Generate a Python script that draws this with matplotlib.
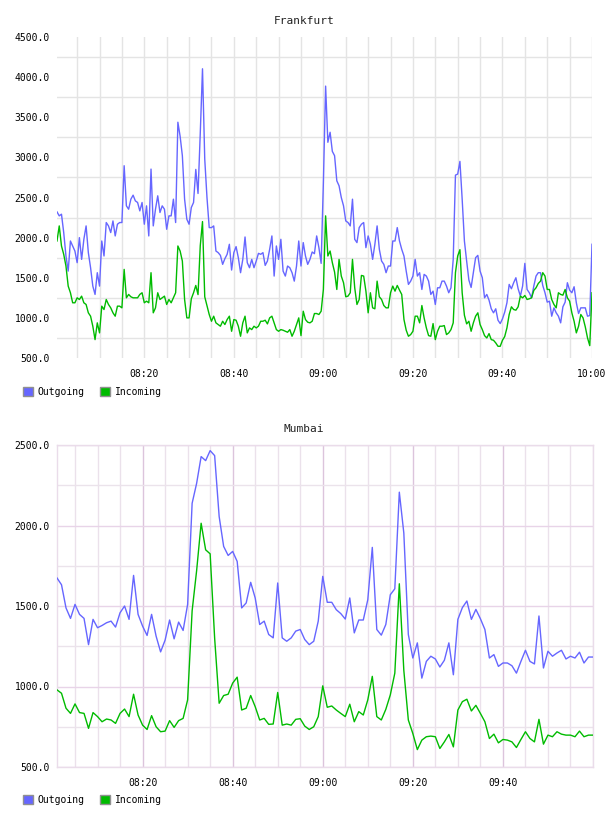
import matplotlib

matplotlib.use("Agg")

import matplotlib.pyplot as plt
import numpy as np
from matplotlib.patches import Patch
from matplotlib.ticker import FixedLocator, FuncFormatter


OUTPUT_PATH = "out.png"

OUTGOING_COLOR = "#6666ff"
INCOMING_COLOR = "#00bb00"
SERIES_LABELS = ["Outgoing", "Incoming"]

# Frankfurt: one sample every 30 s starting 08:00:30 (minutes after 08:00)
FRANKFURT_START_MIN = 0.5
FRANKFURT_STEP_MIN = 0.5

frankfurt_outgoing = [
    2321, 2271, 2292, 2063, 1771, 1583, 1958, 1896, 1833, 1688,
    2000, 1729, 1979, 2146, 1813, 1625, 1396, 1292, 1563, 1396,
    1958, 1771, 2188, 2146, 2063, 2208, 2021, 2167, 2188, 2188,
    2896, 2396, 2354, 2479, 2529, 2458, 2438, 2333, 2438, 2167,
    2396, 2021, 2854, 2146, 2354, 2521, 2313, 2396, 2354, 2104,
    2271, 2271, 2479, 2188, 3438, 3263, 3021, 2479, 2229, 2167,
    2375,
    2438, 2850, 2550, 3300, 4104, 2979, 2500, 2125, 2125, 2146,
    1833, 1813, 1779, 1667, 1738, 1792, 1917, 1596, 1813, 1888,
    1750, 1563, 1729, 2008, 1688, 1625, 1729, 1625, 1708, 1804,
    1792, 1813, 1654, 1708, 1854, 2021, 1521, 1896, 1729, 1979,
    1583, 1521, 1646, 1625, 1563, 1458, 1646, 1958, 1646, 1938,
    1771, 1667, 1729, 1821, 1800, 2021, 1875, 1679, 2688, 3888,
    3188, 3313, 3075, 3021, 2708, 2646, 2500, 2396, 2208, 2188,
    2146, 2479, 1979, 1938, 2125, 2167, 2188, 1875, 2021, 1917,
    1729, 1917, 2146, 1854, 1708, 1667, 1563, 1646, 1646, 1958,
    1958, 2125, 1958, 1854, 1771, 1583, 1417, 1458, 1521, 1729,
    1521, 1563, 1354, 1542, 1521, 1458, 1292, 1333, 1167, 1375,
    1375, 1458, 1458, 1396, 1313, 1375, 1729, 2779, 2792, 2950,
    2479, 1958, 1708, 1471, 1379, 1563, 1750, 1779, 1583, 1500,
    1250, 1292, 1221, 1113, 1063, 1113, 971, 929, 988, 1071,
    1188, 1417, 1363, 1438, 1500, 1363, 1271, 1396, 1679, 1354,
    1313, 1250, 1396, 1521, 1563, 1563, 1404, 1313, 1196, 1208,
    1021, 1125, 1063, 1021, 938, 1138, 1196, 1438, 1346, 1313,
    1388, 1188, 1054, 1125, 1125, 1125, 1021, 1029, 1917,
]

frankfurt_incoming = [
    1958, 2146, 1896, 1792, 1646, 1396, 1313, 1188, 1188, 1250,
    1229, 1271, 1188, 1167, 1063, 1021, 896, 729, 938, 813,
    1146, 1104, 1229, 1167, 1125, 1063, 1021, 1146, 1146, 1125,
    1604, 1250, 1292, 1263, 1250, 1250, 1250, 1292, 1313, 1188,
    1208, 1188, 1563, 1063, 1125, 1313, 1229, 1250, 1271, 1167,
    1229, 1188, 1250, 1313, 1896, 1833, 1708, 1229, 1000, 1000,
    1238,
    1313, 1404, 1290, 1900, 2200, 1263, 1154, 1042, 958, 1021,
    938, 917, 896, 958, 917, 979, 1021, 833, 979, 971,
    896, 771, 938, 1021, 813, 875, 854, 896, 875, 896,
    958, 958, 971, 925, 1000, 1021, 938, 854, 833, 854,
    846, 833, 821, 854, 771, 833, 917, 1000, 779, 1083,
    979, 946, 938, 958, 1054, 1054, 1042, 1083, 1354, 2271,
    1771, 1833, 1688, 1571, 1354, 1729, 1521, 1438, 1263, 1271,
    1313, 1729, 1375, 1167, 1229, 1529, 1521, 1333, 1063, 1313,
    1125, 1113, 1458, 1263, 1229, 1154, 1125, 1125, 1313, 1396,
    1333, 1404, 1346, 1292, 979, 846, 771, 792, 833, 1021,
    1021, 938, 1154, 1000, 875, 779, 771, 929, 729, 833,
    896, 896, 904, 792, 813, 854, 938, 1563, 1771, 1850,
    1313, 1033, 925, 958, 833, 938, 1021, 1063, 917, 854,
    779, 750, 804, 729, 721, 688, 646, 646, 721, 767,
    875, 1042, 1138, 1104, 1096, 1138, 1271, 1250, 1279, 1229,
    1238, 1250, 1342, 1375, 1429, 1458, 1563, 1521, 1354, 1354,
    1229, 1167, 1125, 1313, 1292, 1283, 1354, 1250, 1208, 1063,
    958, 813, 896, 1042, 1000, 888, 750, 654, 1313,
]

# Mumbai: one sample per minute starting 08:01
MUMBAI_START_MIN = 1.0
MUMBAI_STEP_MIN = 1.0

mumbai_outgoing = [
    1674, 1632, 1488, 1423, 1510, 1448, 1423, 1260, 1417, 1365,
    1379, 1396, 1406, 1369, 1458, 1500, 1417, 1690, 1448, 1375,
    1317, 1448, 1313, 1215, 1288, 1413, 1296, 1400, 1348, 1510,
    2138, 2262, 2428, 2403, 2465, 2434, 2056, 1870, 1814, 1839,
    1777, 1488, 1519, 1647, 1550, 1385, 1406, 1323, 1302, 1643,
    1302, 1281, 1302, 1344, 1354, 1292, 1260, 1281, 1406, 1684,
    1523, 1523, 1477, 1453, 1419, 1550, 1333, 1413, 1413, 1539,
    1864, 1354, 1319, 1385, 1570, 1607, 2207, 1953, 1323, 1177,
    1271, 1052, 1156, 1188, 1171, 1121, 1163, 1271, 1073, 1417,
    1490, 1531, 1417, 1479, 1421, 1354, 1177, 1198, 1125, 1146,
    1146, 1129, 1083, 1156, 1225, 1156, 1140, 1438, 1115, 1219,
    1188, 1208, 1225, 1171, 1188, 1177, 1213, 1146, 1183, 1183,
]

mumbai_incoming = [
    979, 958, 865, 833, 892, 838, 833, 740, 838, 813,
    781, 798, 792, 771, 833, 860, 813, 952, 823, 760,
    733, 819, 750, 719, 723, 788, 746, 788, 802, 917,
    1470, 1720, 2014, 1849, 1824, 1300, 896, 944, 952, 1021,
    1058, 854, 865, 944, 875, 792, 802, 765, 767, 963,
    760, 767, 760, 796, 800, 754, 733, 750, 813, 1004,
    871, 879, 854, 833, 813, 890, 781, 844, 823, 917,
    1063, 813, 792, 858, 948, 1083, 1638, 1100, 792, 708,
    608, 667, 688, 692, 688, 615, 656, 702, 625, 854,
    906, 921, 848, 883, 833, 781, 677, 704, 650, 671,
    667, 656, 621, 671, 719, 677, 656, 796, 642, 698,
    688, 719, 704, 698, 698, 688, 723, 688, 698, 698,
]

frankfurt_time_labels = ["08:20", "08:40", "09:00", "09:20", "09:40", "10:00"]
mumbai_time_labels = ["08:20", "08:40", "09:00", "09:20", "09:40"]

frankfurt_y_ticks = [500, 1000, 1500, 2000, 2500, 3000, 3500, 4000, 4500]
mumbai_y_ticks = [500, 1000, 1500, 2000, 2500]

FONT = "DejaVu Sans Mono"
FIG_W, FIG_H = 608, 816


def label_to_minutes(label):
    hours, minutes = label.split(":")
    return (int(hours) - 8) * 60 + int(minutes)


def sample_times(start, step, count):
    return start + step * np.arange(count)


def px_axes(left, top, right, bottom):
    return [left / FIG_W, 1 - bottom / FIG_H, (right - left) / FIG_W,
            (bottom - top) / FIG_H]


def style_ticks(ax, time_labels, y_ticks):
    ax.xaxis.set_major_locator(FixedLocator([label_to_minutes(t) for t in time_labels]))
    ax.set_xticklabels(time_labels)
    ax.xaxis.set_minor_locator(FixedLocator(list(range(5, 121, 5))))
    ax.set_yticks(y_ticks)
    ax.yaxis.set_major_formatter(FuncFormatter(lambda v, _: f"{v:.1f}"))
    ax.tick_params(which="both", length=0, labelsize=7, colors="black")
    ax.tick_params(axis="y", pad=5)
    ax.tick_params(axis="x", pad=8)
    for label in ax.get_xticklabels() + ax.get_yticklabels():
        label.set_family(FONT)


def draw_series(ax, times, outgoing, incoming):
    ax.plot(times, outgoing, color=OUTGOING_COLOR, linewidth=1.0, zorder=3)
    ax.plot(times, incoming, color=INCOMING_COLOR, linewidth=1.0, zorder=4)


def add_legend(fig, y_px):
    handles = [
        Patch(facecolor=OUTGOING_COLOR, edgecolor="#909090", linewidth=1.0),
        Patch(facecolor=INCOMING_COLOR, edgecolor="#909090", linewidth=1.0),
    ]
    fig.legend(
        handles=handles,
        labels=SERIES_LABELS,
        loc="center left",
        bbox_to_anchor=(23 / FIG_W, 1 - y_px / FIG_H),
        ncol=2,
        frameon=False,
        prop={"family": FONT, "size": 7},
        handlelength=1.0,
        handleheight=1.0,
        handletextpad=0.5,
        columnspacing=1.6,
        borderpad=0,
        borderaxespad=0,
    )


def plot_frankfurt(fig):
    ax = fig.add_axes(px_axes(57, 37, 592, 358))
    times = sample_times(FRANKFURT_START_MIN, FRANKFURT_STEP_MIN, len(frankfurt_outgoing))
    draw_series(ax, times, frankfurt_outgoing, frankfurt_incoming)

    ax.set_xlim(times[0], times[-1])
    ax.set_ylim(frankfurt_y_ticks[0], frankfurt_y_ticks[-1])
    style_ticks(ax, frankfurt_time_labels, frankfurt_y_ticks)

    # horizontal grid sits halfway between the labelled values
    ax.yaxis.set_minor_locator(FixedLocator([v + 250 for v in frankfurt_y_ticks[:-1]]))
    ax.grid(True, axis="x", which="both", color="#e4e4e4", linewidth=1.0)
    ax.grid(True, axis="y", which="minor", color="#e4e4e4", linewidth=1.0)
    ax.grid(False, axis="y", which="major")
    ax.set_axisbelow(True)
    for spine in ax.spines.values():
        spine.set_visible(False)

    fig.text(304 / FIG_W, 1 - 21 / FIG_H, "Frankfurt", ha="center", va="center",
             family=FONT, fontsize=8, color="#222222")
    add_legend(fig, 392)


def plot_mumbai(fig):
    ax = fig.add_axes(px_axes(57, 445, 593, 767))
    times = sample_times(MUMBAI_START_MIN, MUMBAI_STEP_MIN, len(mumbai_outgoing))
    draw_series(ax, times, mumbai_outgoing, mumbai_incoming)

    ax.set_xlim(times[0], times[-1])
    ax.set_ylim(mumbai_y_ticks[0], mumbai_y_ticks[-1])
    style_ticks(ax, mumbai_time_labels, mumbai_y_ticks)

    ax.yaxis.set_minor_locator(FixedLocator([v + 250 for v in mumbai_y_ticks[:-1]]))
    ax.grid(True, axis="x", which="major", color="#dcc4dc", linewidth=1.0)
    ax.grid(True, axis="x", which="minor", color="#ebe1eb", linewidth=1.0)
    ax.grid(True, axis="y", which="major", color="#e8d4e8", linewidth=1.0)
    ax.grid(True, axis="y", which="minor", color="#ebe3eb", linewidth=1.0)
    ax.set_axisbelow(True)
    for spine in ax.spines.values():
        spine.set_color("#eadcea")
        spine.set_linewidth(1.0)

    fig.text(304 / FIG_W, 1 - 429 / FIG_H, "Mumbai", ha="center", va="center",
             family=FONT, fontsize=8, color="#222222")
    add_legend(fig, 800)


def main():
    fig = plt.figure(figsize=(FIG_W / 100, FIG_H / 100), dpi=100)
    plot_frankfurt(fig)
    plot_mumbai(fig)
    fig.savefig(OUTPUT_PATH, dpi=100)
    plt.close(fig)


if __name__ == "__main__":
    main()
